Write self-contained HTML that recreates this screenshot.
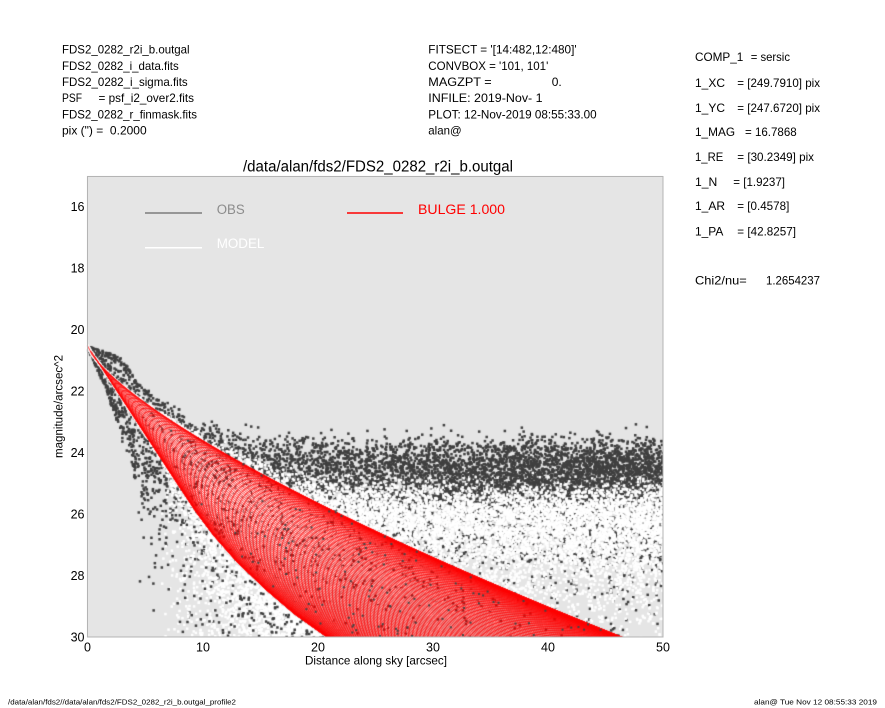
<!DOCTYPE html>
<html><head><meta charset="utf-8"><title>profile</title>
<style>
html,body{margin:0;padding:0;background:#fff;width:885px;height:708px;overflow:hidden}
#w{position:relative;width:885px;height:708px;background:#fff}
#c,#s{position:absolute;left:0;top:0}
text{font-family:"Liberation Sans",Arial,Helvetica,sans-serif;fill:#000}
</style></head><body><div id="w">
<canvas id="c" width="885" height="708"></canvas>
<svg id="s" width="885" height="708" viewBox="0 0 885 708" xmlns="http://www.w3.org/2000/svg">
<!-- header left -->
<g font-size="12">
<text x="62" y="53.6" textLength="127.6" lengthAdjust="spacingAndGlyphs">FDS2_0282_r2i_b.outgal</text>
<text x="62" y="69.8" textLength="116.7" lengthAdjust="spacingAndGlyphs">FDS2_0282_i_data.fits</text>
<text x="62" y="86" textLength="125.7" lengthAdjust="spacingAndGlyphs">FDS2_0282_i_sigma.fits</text>
<text x="62" y="102.1" textLength="20" lengthAdjust="spacingAndGlyphs">PSF</text>
<text x="98.5" y="102.1" textLength="95.5" lengthAdjust="spacingAndGlyphs">= psf_i2_over2.fits</text>
<text x="62" y="118.3" textLength="135" lengthAdjust="spacingAndGlyphs">FDS2_0282_r_finmask.fits</text>
<text x="62" y="134.4" xml:space="preserve" style="white-space:pre">pix (") =  0.2000</text>
<!-- header middle -->
<text x="428.3" y="53.6" textLength="148.3" lengthAdjust="spacingAndGlyphs">FITSECT = '[14:482,12:480]'</text>
<text x="428.3" y="69.8" textLength="120" lengthAdjust="spacingAndGlyphs">CONVBOX = '101, 101'</text>
<text x="428.3" y="86" textLength="63.4" lengthAdjust="spacingAndGlyphs">MAGZPT  =</text>
<text x="551.7" y="86" textLength="10" lengthAdjust="spacingAndGlyphs">0.</text>
<text x="428.3" y="102.1" textLength="114.3" lengthAdjust="spacingAndGlyphs">INFILE: 2019-Nov- 1</text>
<text x="428.3" y="118.3" textLength="168.3" lengthAdjust="spacingAndGlyphs">PLOT: 12-Nov-2019 08:55:33.00</text>
<text x="428.3" y="134.4" textLength="33.3" lengthAdjust="spacingAndGlyphs">alan@</text>
<!-- right column -->
<text x="695" y="61" textLength="48.3" lengthAdjust="spacingAndGlyphs">COMP_1</text>
<text x="750.7" y="61" textLength="39.3" lengthAdjust="spacingAndGlyphs">= sersic</text>
<text x="695" y="87" textLength="30" lengthAdjust="spacingAndGlyphs">1_XC</text>
<text x="737.3" y="87" textLength="82.7" lengthAdjust="spacingAndGlyphs">= [249.7910] pix</text>
<text x="695" y="112" textLength="30" lengthAdjust="spacingAndGlyphs">1_YC</text>
<text x="737.3" y="112" textLength="82.7" lengthAdjust="spacingAndGlyphs">= [247.6720] pix</text>
<text x="695" y="136" textLength="40" lengthAdjust="spacingAndGlyphs">1_MAG</text>
<text x="745" y="136" textLength="51.7" lengthAdjust="spacingAndGlyphs">= 16.7868</text>
<text x="695" y="161" textLength="28.3" lengthAdjust="spacingAndGlyphs">1_RE</text>
<text x="737.3" y="161" textLength="76.7" lengthAdjust="spacingAndGlyphs">= [30.2349] pix</text>
<text x="695" y="186" textLength="22.3" lengthAdjust="spacingAndGlyphs">1_N</text>
<text x="733.3" y="186" textLength="51.7" lengthAdjust="spacingAndGlyphs">= [1.9237]</text>
<text x="695" y="210" textLength="30" lengthAdjust="spacingAndGlyphs">1_AR</text>
<text x="737.3" y="210" textLength="52" lengthAdjust="spacingAndGlyphs">= [0.4578]</text>
<text x="695" y="235.3" textLength="28.3" lengthAdjust="spacingAndGlyphs">1_PA</text>
<text x="737.3" y="235.3" textLength="58.7" lengthAdjust="spacingAndGlyphs">= [42.8257]</text>
<text x="695" y="284.3" textLength="51.7" lengthAdjust="spacingAndGlyphs">Chi2/nu=</text>
<text x="766" y="284.3" textLength="54" lengthAdjust="spacingAndGlyphs">1.2654237</text>
</g>
<!-- title -->
<text x="243" y="171.5" font-size="15.5" textLength="270" lengthAdjust="spacingAndGlyphs">/data/alan/fds2/FDS2_0282_r2i_b.outgal</text>
<!-- frame -->
<rect x="87.5" y="176.5" width="575.5" height="460.5" fill="none" stroke="#b4b4b4" stroke-width="1"/>
<!-- legend -->
<line x1="145" y1="213" x2="202" y2="213" stroke="#7d7d7d" stroke-width="1.5"/>
<text x="216.7" y="213.8" font-size="13.5" textLength="28" lengthAdjust="spacingAndGlyphs" style="fill:#8c8c8c">OBS</text>
<line x1="145" y1="247.7" x2="202" y2="247.7" stroke="#ffffff" stroke-width="1.5"/>
<text x="216.7" y="247.8" font-size="13.5" textLength="47.7" lengthAdjust="spacingAndGlyphs" style="fill:#ffffff">MODEL</text>
<line x1="347" y1="213" x2="403" y2="213" stroke="#ff0000" stroke-width="1.5"/>
<text x="418" y="213.8" font-size="13.5" textLength="87" lengthAdjust="spacingAndGlyphs" style="fill:#ff0000">BULGE  1.000</text>
<!-- y tick labels -->
<g font-size="12.5" text-anchor="end">
<text x="84.5" y="211.2">16</text>
<text x="84.5" y="272.7">18</text>
<text x="84.5" y="334.2">20</text>
<text x="84.5" y="395.6">22</text>
<text x="84.5" y="457.1">24</text>
<text x="84.5" y="518.5">26</text>
<text x="84.5" y="580">28</text>
<text x="84.5" y="641.5">30</text>
</g>
<!-- x tick labels -->
<g font-size="12.5" text-anchor="middle">
<text x="87.5" y="651.5">0</text>
<text x="203" y="651.5">10</text>
<text x="318" y="651.5">20</text>
<text x="433" y="651.5">30</text>
<text x="548" y="651.5">40</text>
<text x="663" y="651.5">50</text>
</g>
<text x="305" y="664.5" font-size="12" textLength="142" lengthAdjust="spacingAndGlyphs">Distance along sky [arcsec]</text>
<text transform="translate(62.3,406.5) rotate(-90)" x="-51.5" y="0" font-size="11.5" textLength="103" lengthAdjust="spacingAndGlyphs">magnitude/arcsec^2</text>
<!-- footer -->
<text x="8" y="704.5" font-size="7.5" textLength="228" lengthAdjust="spacingAndGlyphs">/data/alan/fds2//data/alan/fds2/FDS2_0282_r2i_b.outgal_profile2</text>
<text x="754" y="704.5" font-size="7.5" textLength="123" lengthAdjust="spacingAndGlyphs">alan@  Tue Nov 12 08:55:33 2019</text>
</svg>
</div>
<script>
(function(){
var cv=document.getElementById('c'),ctx=cv.getContext('2d');
function mulberry32(a){return function(){a|=0;a=a+0x6D2B79F5|0;var t=Math.imul(a^a>>>15,1|a);t=t+Math.imul(t^t>>>7,61|t)^t;return((t^t>>>14)>>>0)/4294967296;};}
var rnd=mulberry32(20191112);
function gauss(){var u=rnd();if(u<1e-9)u=1e-9;var v=rnd();return Math.sqrt(-2*Math.log(u))*Math.cos(2*Math.PI*v);}
var X0=87,XS=11.52,Y0=176,YS=30.73;
function X(r){return X0+r*XS;}
function Y(m){return Y0+(m-15)*YS;}
function tab(T,r){
  if(r<=T[0][0])return T[0][1];
  for(var k=1;k<T.length;k++){if(r<=T[k][0]){var a=T[k-1],b=T[k];return a[1]+(b[1]-a[1])*(r-a[0])/(b[0]-a[0]);}}
  var a2=T[T.length-2],b2=T[T.length-1];return b2[1]+(b2[1]-a2[1])*(r-b2[0])/(b2[0]-a2[0]);
}
function U(r){return 20.5+0.577*Math.pow(r,0.73);}
var LT=[[0,20.5],[2,21.65],[4,22.8],[6,23.95],[8,25.1],[9.5,25.95],[11,26.7],[13,27.55],[15.5,28.45],[18,29.25],[21,30.05],[50,38]];
function L(r){return tab(LT,r);}
var OU=[[0,20.55],[1,20.65],[2,20.78],[3,20.95],[3.6,21.25],[4.3,21.7],[5.5,22.1],[8.4,23.05],[11,23.55],[14,24.1],[18.5,24.8],[25,26.1],[35,28.0],[50,30.2]];
var OL=[[0,20.55],[1.57,21.86],[2.6,22.94],[3.9,24.0],[4.8,25.1],[6,26.3],[8,28],[10,29.5],[15,33],[50,60]];
var q=0.4578,PA=42.8*Math.PI/180;
function sOf(phi){var c=Math.cos(phi),s=Math.sin(phi);return (Math.sqrt(c*c+s*s/(q*q))-1)/(1/q-1);}
function sampleR(a){var T=50*a+1250;var u=rnd();return -a+Math.sqrt(a*a+2*u*T);}
function sig(r){return r<8?0.25+0.75*(r/8)*(r/8):1;}

ctx.fillStyle='#e5e5e5';ctx.fillRect(87,176,576,461);
ctx.save();ctx.beginPath();ctx.rect(87.5,176.5,575.5,460.5);ctx.clip();

var SZ=2.5,H=SZ/2;
/* OBS dark points */
ctx.fillStyle='#404040';
var MS=24.6,ND=16000,i,r,s,mu,G,F,m;
for(i=0;i<ND;i++){
  r=sampleR(10);s=sOf(rnd()*2*Math.PI);
  var ou=tab(OU,r),ol=tab(OL,r);mu=ou+s*(ol-ou);
  G=Math.pow(10,-0.4*(mu-MS));F=G+sig(r)*gauss();
  if(F<=0)continue;m=MS-2.5*Math.log(F)/Math.LN10;
  if(m>30.5)continue;
  ctx.fillRect(X(r)-H,Y(m)-H,SZ,SZ);
}
/* MODEL white points */
ctx.fillStyle='#ffffff';
var MW=26.1,NW=18000;
for(i=0;i<NW;i++){
  r=sampleR(10);s=sOf(rnd()*2*Math.PI);
  var u=U(r),l=L(r);mu=u+s*(l-u);
  G=Math.pow(10,-0.4*(mu-MW));F=G+sig(r)*gauss();
  if(F<=0)continue;m=MW-2.5*Math.log(F)/Math.LN10;
  if(m>30.5)continue;
  ctx.fillRect(X(r)-H,Y(m)-H,SZ,SZ);
}
/* extra white below the lower red edge */
for(i=0;i<1700;i++){
  r=6.5+14.5*Math.pow(rnd(),0.7);var lo=L(r)+0.1;if(lo>30.3)continue;
  m=lo+(30.4-lo)*Math.pow(rnd(),1.4);
  ctx.fillRect(X(r)-H,Y(m)-H,SZ,SZ);
}
/* extra sparse dark in that triangle */
ctx.fillStyle='#404040';
for(i=0;i<220;i++){
  r=6.5+16*Math.pow(rnd(),0.8);var lo2=L(r)+0.1;if(lo2>30.3)continue;
  m=lo2+(30.4-lo2)*rnd();
  ctx.fillRect(X(r)-H,Y(m)-H,SZ,SZ);
}
/* BULGE red lines */
ctx.strokeStyle='#ff0000';ctx.lineWidth=0.5;
var step=0.3,half=47.1;
for(var yy=-half;yy<=half+1e-6;yy+=step){
  ctx.beginPath();var pen=false;
  for(var xx=-half;xx<=half+1e-6;xx+=step){
    var d=Math.sqrt(xx*xx+yy*yy);
    var phi=Math.atan2(yy,xx)-PA;var ss=sOf(phi);
    var uu=U(d),ll=L(d);var mm=uu+ss*(ll-uu);
    if(d>51||mm>31.5){pen=false;continue;}
    var px=X(d),py=Y(mm);
    if(pen)ctx.lineTo(px,py);else{ctx.moveTo(px,py);pen=true;}
  }
  ctx.stroke();
}
/* dark speckles visible through the red band */
ctx.fillStyle='#444444';
for(i=0;i<260;i++){
  r=5+40*Math.sqrt(rnd());s=rnd();
  mu=U(r)+s*(L(r)-U(r));if(mu>30.3)continue;
  ctx.fillRect(X(r)-1,Y(mu)-1,2,2);
}
ctx.restore();
})();
</script>
</body></html>
